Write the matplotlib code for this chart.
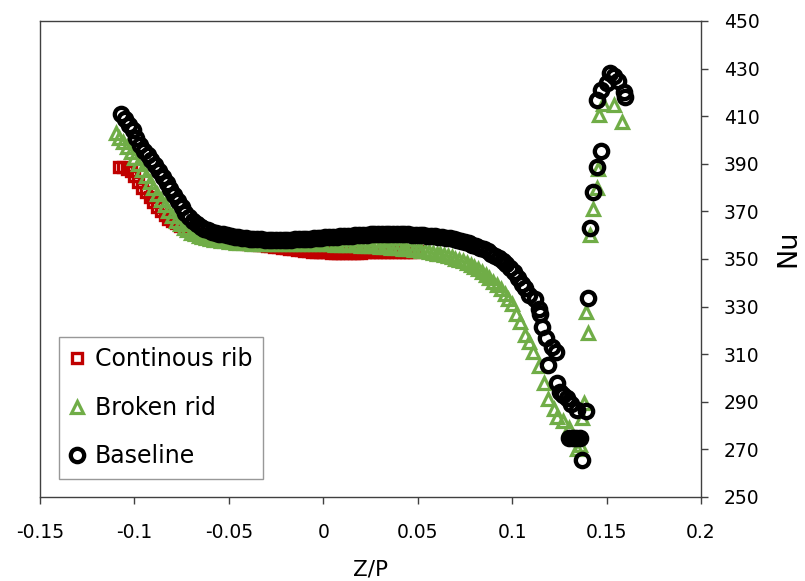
import matplotlib
matplotlib.use("Agg")
import matplotlib.pyplot as plt

plt.rcParams['font.family'] = ['DejaVu Sans']

# ---- data ----
base_x = [-0.107, -0.105, -0.103, -0.101, -0.099, -0.097, -0.095, -0.093, -0.091, -0.089,
          -0.087, -0.085, -0.083, -0.081, -0.079, -0.077, -0.075, -0.073, -0.071, -0.069,
          -0.067, -0.065, -0.063, -0.061, -0.059, -0.057, -0.055, -0.053, -0.051, -0.049,
          -0.047, -0.045, -0.043, -0.041, -0.039, -0.037, -0.035, -0.033, -0.031, -0.029,
          -0.027, -0.025, -0.023, -0.021, -0.019, -0.017, -0.015, -0.013, -0.011, -0.009,
          -0.007, -0.005, -0.003, -0.001, 0.001, 0.003, 0.005, 0.007, 0.009, 0.011,
          0.013, 0.015, 0.017, 0.019, 0.021, 0.023, 0.025, 0.027, 0.029, 0.031,
          0.033, 0.035, 0.037, 0.039, 0.041, 0.043, 0.045, 0.047, 0.049, 0.051,
          0.053, 0.055, 0.057, 0.059, 0.061, 0.063, 0.065, 0.067, 0.069, 0.071,
          0.073, 0.075, 0.077, 0.079, 0.081, 0.083, 0.085, 0.087, 0.089, 0.091,
          0.093, 0.095, 0.097, 0.099, 0.101, 0.103, 0.105,
          0.107, 0.109, 0.112, 0.114, 0.115, 0.116, 0.118, 0.119, 0.121, 0.123,
          0.124, 0.1255, 0.127, 0.129, 0.131, 0.1345, 0.139, 0.130, 0.132, 0.134,
          0.136, 0.137, 0.140, 0.141, 0.143, 0.145, 0.147, 0.145, 0.147, 0.150,
          0.152, 0.154, 0.156, 0.159, 0.160]
base_y = [411, 409, 406.5, 404, 401, 398, 395.5, 393.5, 391.5, 389.5,
          387, 384.5, 382, 379.5, 377, 374.5, 372, 369.5, 367.5, 366,
          364.5, 363.5, 362.6, 362, 361.4, 361, 360.6, 360.3, 360, 359.7,
          359.4, 359.2, 359, 358.8, 358.6, 358.4, 358.3, 358.2, 358.1, 358,
          358, 358, 358, 358, 358, 358.1, 358.2, 358.3, 358.4, 358.5,
          358.6, 358.7, 358.8, 359, 359.1, 359.2, 359.3, 359.4, 359.5, 359.6,
          359.7, 359.8, 359.9, 360, 360.1, 360.2, 360.3, 360.4, 360.4, 360.5,
          360.5, 360.5, 360.5, 360.5, 360.5, 360.4, 360.3, 360.2, 360.1, 360,
          359.9, 359.8, 359.6, 359.5, 359.3, 359.1, 358.9, 358.7, 358.3, 358,
          357.6, 357.1, 356.6, 356, 355.4, 354.7, 354, 353.2, 352.3, 351.3,
          350.3, 349.2, 347.8, 346.2, 344.5, 342, 339.5,
          338, 335, 333, 329, 327, 321.5, 317, 305.5, 313, 311,
          298, 294, 293, 291.6, 289, 286.6, 286, 275, 275, 275,
          275, 265.5, 333.5, 363, 378, 388.5, 395.5, 417, 421, 424,
          428, 427, 425, 420, 418]

broken_x = [-0.110, -0.108, -0.106, -0.104, -0.102, -0.100, -0.098, -0.096, -0.094, -0.092,
            -0.090, -0.088, -0.086, -0.084, -0.082, -0.080, -0.078, -0.076, -0.074, -0.072,
            -0.070, -0.068, -0.066, -0.064, -0.062, -0.060, -0.058, -0.056, -0.054, -0.052,
            -0.050, -0.048, -0.046, -0.044, -0.042, -0.040, -0.038, -0.036, -0.034, -0.032,
            -0.030, -0.028, -0.026, -0.024, -0.022, -0.020, -0.018, -0.016, -0.014, -0.012,
            -0.010, -0.008, -0.006, -0.004, -0.002, 0.000, 0.002, 0.004, 0.006, 0.008,
            0.010, 0.012, 0.014, 0.016, 0.018, 0.020, 0.022, 0.024, 0.026, 0.028,
            0.030, 0.032, 0.034, 0.036, 0.038, 0.040, 0.042, 0.044, 0.046, 0.048,
            0.050, 0.052, 0.054, 0.056, 0.058, 0.060, 0.062, 0.064, 0.066, 0.068,
            0.070, 0.072, 0.074, 0.076, 0.078, 0.080, 0.082, 0.084, 0.086, 0.088,
            0.090, 0.092, 0.094, 0.096, 0.098, 0.100,
            0.102, 0.104, 0.107, 0.109, 0.111, 0.114, 0.117, 0.119, 0.122, 0.124,
            0.127, 0.130, 0.132, 0.1345, 0.136, 0.137, 0.138, 0.139, 0.140, 0.141,
            0.143, 0.145, 0.1455, 0.146, 0.148, 0.154, 0.158]
broken_y = [403, 401, 399, 397, 395, 392.5, 390, 387.5, 385, 382.5,
            380, 377.5, 375, 372.5, 370, 368, 366, 364.5, 363, 362,
            361, 360.3, 359.7, 359.2, 358.8, 358.4, 358.1, 357.9, 357.6, 357.4,
            357.2, 357, 356.9, 356.8, 356.7, 356.6, 356.5, 356.5, 356.5, 356.4,
            356.4, 356.4, 356.4, 356.4, 356.4, 356.4, 356.4, 356.3, 356.3, 356.3,
            356.3, 356.3, 356.2, 356.2, 356.2, 356.2, 356.1, 356.1, 356, 356,
            355.9, 355.9, 355.8, 355.7, 355.7, 355.6, 355.5, 355.4, 355.4, 355.3,
            355.2, 355, 354.9, 354.8, 354.6, 354.5, 354.4, 354.2, 354.1, 353.9,
            353.7, 353.5, 353.2, 352.9, 352.6, 352.3, 352, 351.6, 351.2, 350.7,
            350.2, 349.6, 349, 348.3, 347.5, 346.6, 345.6, 344.5, 343.3, 342,
            340.5, 339, 337.2, 335.3, 333.3, 331,
            327, 323.5, 318, 315, 311, 305, 298, 291, 287, 283.6,
            282, 279, 275, 270, 272, 283, 289.5, 327.7, 319, 360,
            371, 380, 388, 410.5, 415, 414.7, 407.6]

cont_x = [-0.108, -0.106, -0.104, -0.102, -0.100, -0.098, -0.096, -0.094, -0.092, -0.090,
          -0.088, -0.086, -0.084, -0.082, -0.080, -0.078, -0.076, -0.074, -0.072, -0.070,
          -0.068, -0.066, -0.064, -0.062, -0.060, -0.058, -0.056, -0.054, -0.052, -0.050,
          -0.048, -0.046, -0.044, -0.042, -0.040, -0.038, -0.036, -0.034, -0.032, -0.030,
          -0.028, -0.026, -0.024, -0.022, -0.020, -0.018, -0.016, -0.014, -0.012, -0.010,
          -0.008, -0.006, -0.004, -0.002, 0.000, 0.002, 0.004, 0.006, 0.008, 0.010,
          0.012, 0.014, 0.016, 0.018, 0.020, 0.022, 0.024, 0.026, 0.028, 0.030,
          0.032, 0.034, 0.036, 0.038, 0.040, 0.042, 0.044, 0.046, 0.048, 0.050]
cont_y = [388.5, 388.5, 388, 387, 385, 382.5, 380, 378, 376, 374,
          372, 370, 368.5, 367, 366, 365, 364, 363, 362.3, 361.6,
          361, 360.5, 360, 359.6, 359.2, 358.8, 358.4, 358.1, 357.8, 357.5,
          357.3, 357.1, 356.9, 356.7, 356.5, 356.3, 356.1, 355.9, 355.7, 355.5,
          355.3, 355.1, 354.9, 354.7, 354.5, 354.3, 354.1, 353.9, 353.7, 353.5,
          353.3, 353.1, 353, 352.9, 352.8, 352.8, 352.7, 352.7, 352.7, 352.7,
          352.7, 352.7, 352.7, 352.7, 352.7, 352.8, 352.8, 352.8, 352.8, 352.8,
          352.9, 352.9, 352.9, 353, 353, 353, 353, 353.1, 353.1, 353.2]

x_ticks = [-0.15, -0.1, -0.05, 0, 0.05, 0.1, 0.15, 0.2]
x_tick_labels = ['-0.15', '-0.1', '-0.05', '0', '0.05', '0.1', '0.15', '0.2']
y_ticks = [250, 270, 290, 310, 330, 350, 370, 390, 410, 430, 450]

# ---- figure ----
fig = plt.figure(figsize=(8.05, 5.81), dpi=100)
ax = fig.add_axes([40 / 805, 1 - 497 / 581, 661 / 805, 476 / 581])

red = '#C00000'
green = '#70AD47'

ax.plot(cont_x, cont_y, linestyle='none', marker='s', ms=6.5, mew=2.4,
        mfc='none', mec=red, label='Continous rib')
ax.plot(broken_x, broken_y, linestyle='none', marker='^', ms=9, mew=2.3,
        mfc='none', mec=green, label='Broken rid')
ax.plot(base_x, base_y, linestyle='none', marker='o', ms=9.6, mew=3.1,
        mfc='none', mec='black', label='Baseline')

ax.set_xlim(-0.15, 0.2)
ax.set_ylim(250, 450)
ax.set_xticks(x_ticks)
ax.set_xticklabels(x_tick_labels)
ax.set_yticks(y_ticks)
ax.yaxis.tick_right()
ax.yaxis.set_label_position('right')

spine_col = '#404040'
for s in ax.spines.values():
    s.set_color(spine_col)
    s.set_linewidth(1.0)
ax.tick_params(axis='both', direction='out', length=5, width=1.0,
               color=spine_col, labelsize=13.5, labelcolor='black')
ax.tick_params(axis='x', pad=14)
ax.tick_params(axis='y', pad=11.5)

ax.set_xlabel('Z/P', fontsize=15.5, labelpad=12)
ax.set_ylabel('Nu', fontsize=19.5, rotation=90)
ax.yaxis.set_label_coords(1.113, 0.523)

leg = ax.legend(loc='lower left', bbox_to_anchor=(0.0287, 0.0378), borderaxespad=0,
                fontsize=17, frameon=True, fancybox=False, edgecolor='#7f7f7f',
                handlelength=0.6, handletextpad=0.48, labelspacing=1.04,
                borderpad=0.45, markerscale=1.0)
leg.get_frame().set_linewidth(1.0)

fig.savefig('out.png', dpi=100)
